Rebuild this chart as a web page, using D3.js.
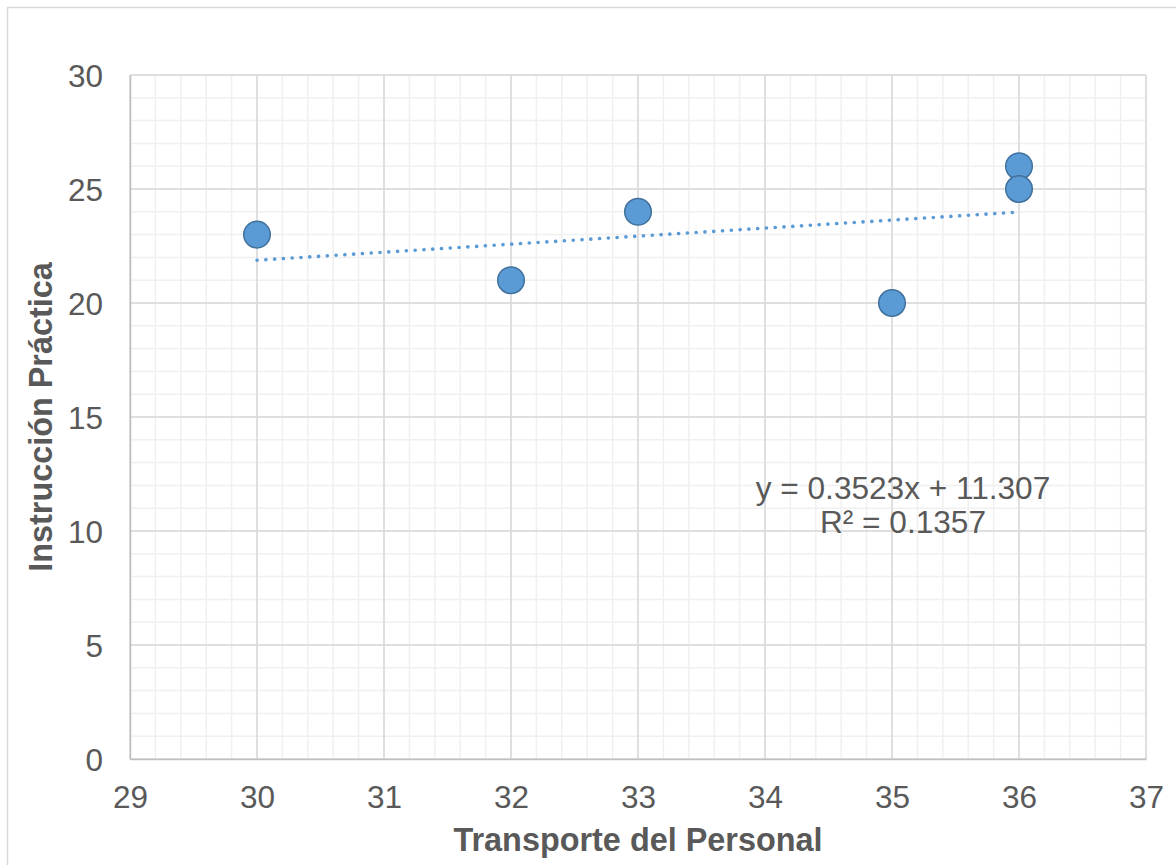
<!DOCTYPE html>
<html><head><meta charset="utf-8">
<script src="https://cdn.jsdelivr.net/npm/d3@7"></script>
<style>body{margin:0;background:#fff}svg{display:block}text{font-family:"Liberation Sans",Arial,sans-serif}</style>
</head><body>
<script>
const xValues = [30, 32, 33, 35, 36, 36];
const yValues = [23, 21, 24, 20, 26, 25];
const xTicks = [29, 30, 31, 32, 33, 34, 35, 36, 37];
const yTicks = [0, 5, 10, 15, 20, 25, 30];
const slope = 0.3523, intercept = 11.307;
const eqText = "y = 0.3523x + 11.307";
const r2Text = "R² = 0.1357";
const xTitle = "Transporte del Personal";
const yTitle = "Instrucción Práctica";

const W = 1176, H = 865;
const L = 130, R = 1146, T = 75, B = 759;
const svg = d3.select("body").append("svg").attr("width", W).attr("height", H);
svg.append("rect").attr("x", 7.5).attr("y", 7.5).attr("width", W + 10).attr("height", H + 10)
  .attr("fill", "#fff").attr("stroke", "#d9d9d9").attr("stroke-width", 1.5);

const x = d3.scaleLinear().domain([29, 37]).range([L, R]);
const y = d3.scaleLinear().domain([0, 30]).range([B, T]);

// minor grid
const g = svg.append("g");
g.selectAll(".mx").data(d3.range(29, 37.001, 0.2)).enter().append("line")
  .attr("x1", d => x(d)).attr("x2", d => x(d)).attr("y1", T).attr("y2", B)
  .attr("stroke", "#f0f0f0").attr("stroke-width", 1.5);
g.selectAll(".my").data(d3.range(0, 30.001, 1)).enter().append("line")
  .attr("y1", d => y(d)).attr("y2", d => y(d)).attr("x1", L).attr("x2", R)
  .attr("stroke", "#f0f0f0").attr("stroke-width", 1.5);
// major grid
g.selectAll(".Mx").data(xTicks).enter().append("line")
  .attr("x1", d => x(d)).attr("x2", d => x(d)).attr("y1", T).attr("y2", B)
  .attr("stroke", "#d9d9d9").attr("stroke-width", 1.5);
g.selectAll(".My").data(yTicks).enter().append("line")
  .attr("y1", d => y(d)).attr("y2", d => y(d)).attr("x1", L).attr("x2", R)
  .attr("stroke", "#d9d9d9").attr("stroke-width", 1.5);

// axes
const xAxis = svg.append("g").attr("transform", `translate(0,${B})`)
  .call(d3.axisBottom(x).tickValues(xTicks).tickSize(0).tickPadding(0).tickFormat(d3.format("d")));
xAxis.select(".domain").attr("stroke", "#bfbfbf").attr("stroke-width", 1.5);
xAxis.selectAll("text").attr("dy", null).attr("y", 49).attr("fill", "#595959").style("font-size", "31.5px");
const yAxis = svg.append("g").attr("transform", `translate(${L},0)`)
  .call(d3.axisLeft(y).tickValues(yTicks).tickSize(0).tickPadding(0).tickFormat(d3.format("d")));
yAxis.select(".domain").attr("stroke", "#bfbfbf").attr("stroke-width", 1.5);
yAxis.selectAll("text").attr("x", -27).attr("dy", "0.35em").attr("fill", "#595959").style("font-size", "31.5px");

// trendline
svg.append("line")
  .attr("x1", x(d3.min(xValues))).attr("y1", y(slope * d3.min(xValues) + intercept))
  .attr("x2", x(d3.max(xValues))).attr("y2", y(slope * d3.max(xValues) + intercept))
  .attr("stroke", "#5b9bd5").attr("stroke-width", 3.6).attr("stroke-linecap", "round")
  .attr("stroke-dasharray", "0.1 8.7");

// points
svg.selectAll(".pt").data(xValues.map((v, i) => [v, yValues[i]])).enter().append("circle")
  .attr("cx", d => x(d[0])).attr("cy", d => y(d[1])).attr("r", 13.3)
  .attr("fill", "#5b9bd5").attr("stroke", "#41719c").attr("stroke-width", 1.5);

// equation
svg.append("text").attr("x", 903).attr("y", 499).attr("text-anchor", "middle")
  .attr("fill", "#595959").style("font-size", "31.6px").text(eqText);
svg.append("text").attr("x", 903).attr("y", 533).attr("text-anchor", "middle")
  .attr("fill", "#595959").style("font-size", "31.6px").text(r2Text);

// titles
svg.append("text").attr("x", 638).attr("y", 851).attr("text-anchor", "middle")
  .attr("fill", "#595959").style("font-size", "32.4px").style("font-weight", "bold").text(xTitle);
svg.append("text").attr("transform", "translate(52,417) rotate(-90)").attr("text-anchor", "middle")
  .attr("fill", "#595959").style("font-size", "32.4px").style("font-weight", "bold").text(yTitle);
</script>
</body></html>
